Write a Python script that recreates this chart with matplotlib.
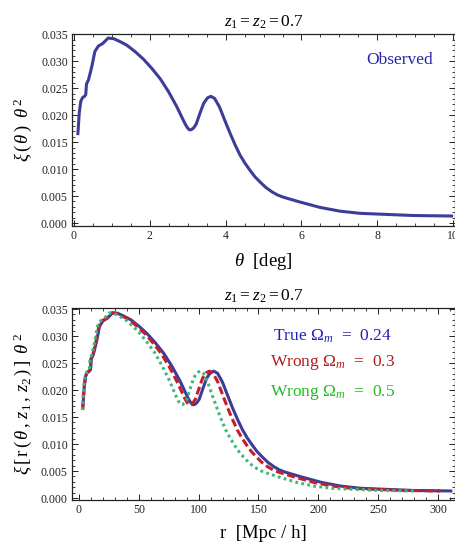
import matplotlib
matplotlib.use("Agg")
import matplotlib.pyplot as plt
from matplotlib.ticker import MultipleLocator, FormatStrFormatter

plt.rcParams['font.family'] = ['Liberation Serif', 'DejaVu Serif']
plt.rcParams['mathtext.fontset'] = 'custom'
plt.rcParams['mathtext.rm'] = 'Liberation Serif'
plt.rcParams['mathtext.it'] = 'Liberation Serif:italic'
plt.rcParams['mathtext.bf'] = 'Liberation Serif:bold'

# --- data ---
# observed angular correlation, xi(theta) * theta^2
theta_deg = [0.10, 0.14, 0.18, 0.23, 0.28, 0.31, 0.33, 0.38, 0.47, 0.55,
             0.64, 0.76, 0.90, 1.04, 1.20, 1.39, 1.61, 1.83, 2.05, 2.27,
             2.49, 2.71, 2.84, 2.93, 2.99, 3.04, 3.09, 3.15, 3.22, 3.32,
             3.42, 3.52, 3.61, 3.71, 3.84, 3.98, 4.12, 4.25, 4.38, 4.51,
             4.64, 4.77, 4.91, 5.06, 5.22, 5.37, 5.52, 5.96, 6.49, 7.02,
             7.55, 8.25, 8.95, 10.0]
xi_theta2 = [0.0163, 0.0205, 0.0226, 0.0233, 0.0235, 0.0238, 0.0258, 0.0265, 0.0290, 0.0318,
             0.0328, 0.0333, 0.0343, 0.0342, 0.0337, 0.0330, 0.0318, 0.0304, 0.0287, 0.0268,
             0.0244, 0.0216, 0.0197, 0.0184, 0.0177, 0.0173, 0.0173, 0.0176, 0.0183, 0.0203,
             0.0222, 0.0232, 0.0235, 0.0231, 0.0215, 0.0190, 0.0166, 0.0145, 0.0126, 0.0111,
             0.0098, 0.0086, 0.0076, 0.0066, 0.0058, 0.0052, 0.0048, 0.0039, 0.0029, 0.0022,
             0.0018, 0.0016, 0.0014, 0.0013]

# same points placed at comoving separation r [Mpc/h] for each cosmology
r_true_024 = [3.1, 4.4, 5.6, 7.2, 8.7, 9.7, 10.3, 11.9, 14.7, 17.2,
              20.0, 23.7, 28.1, 32.4, 37.4, 43.4, 50.2, 57.1, 64.0, 70.8,
              77.7, 84.6, 88.6, 91.4, 93.3, 94.8, 96.4, 98.3, 100.5, 103.6,
              106.7, 109.8, 112.6, 115.8, 119.8, 124.2, 128.5, 132.6, 136.7, 140.7,
              144.8, 148.8, 153.2, 157.9, 162.9, 167.5, 172.2, 186.0, 202.5, 219.0,
              235.6, 257.4, 279.2, 312.0]
r_wrong_03 = [3.0, 4.2, 5.4, 6.9, 8.5, 9.4, 10.0, 11.5, 14.2, 16.6,
              19.3, 23.0, 27.2, 31.4, 36.2, 42.0, 48.6, 55.3, 61.9, 68.6,
              75.2, 81.8, 85.8, 88.5, 90.3, 91.8, 93.3, 95.1, 97.2, 100.3,
              103.3, 106.3, 109.0, 112.0, 116.0, 120.2, 124.4, 128.4, 132.3, 136.2,
              140.1, 144.1, 148.3, 152.8, 157.6, 162.2, 166.7, 180.0, 196.0, 212.0,
              228.0, 249.2, 270.3, 302.0]
r_wrong_05 = [2.8, 3.9, 5.0, 6.4, 7.8, 8.7, 9.2, 10.6, 13.2, 15.4,
              17.9, 21.3, 25.2, 29.1, 33.6, 38.9, 45.1, 51.2, 57.4, 63.6,
              69.7, 75.9, 79.5, 82.0, 83.7, 85.1, 86.5, 88.2, 90.2, 93.0,
              95.8, 98.6, 101.1, 103.9, 107.5, 111.4, 115.4, 119.0, 122.6, 126.3,
              129.9, 133.6, 137.5, 141.7, 146.2, 150.4, 154.6, 166.9, 181.7, 196.6,
              211.4, 231.0, 250.6, 280.0]

labels_bottom = [r'True $\Omega_m$  =  0.24', r'Wrong $\Omega_m$  =  0.3', r'Wrong $\Omega_m$  =  0.5']

c_blue = '#3d3d99'
c_red = '#c41e2a'
c_green = '#3cb878'


def style_axes(ax, x_major, x_minor):
    ax.xaxis.set_major_locator(MultipleLocator(x_major))
    ax.xaxis.set_minor_locator(MultipleLocator(x_minor))
    ax.yaxis.set_major_locator(MultipleLocator(0.005))
    ax.yaxis.set_minor_locator(MultipleLocator(0.001))
    ax.yaxis.set_major_formatter(FormatStrFormatter('%.3f'))
    ax.tick_params(which='both', direction='in', top=True, right=True,
                   labelsize=8.5, colors='#222222', pad=3)
    ax.tick_params(which='major', length=4, width=0.7)
    ax.tick_params(which='minor', length=2, width=0.6)
    for s in ax.spines.values():
        s.set_linewidth(0.9)
        s.set_color('#222222')


fig = plt.figure(figsize=(4.55, 5.47), dpi=100)

# --- top panel ---
ax1 = fig.add_axes([0.1582, 0.5868, 0.8418, 0.351])
ax1.plot(theta_deg, xi_theta2, color=c_blue, lw=2.2, solid_capstyle='butt')
ax1.set_xlim(-0.053, 10.05)
ax1.set_ylim(-0.00055, 0.03505)
style_axes(ax1, 2, 0.5)
ax1.set_title(r'$z_1 = z_2 = 0.7$', fontsize=12.5, pad=5)
ax1.set_xlabel(r'$\theta$  [deg]', fontsize=13.5, labelpad=6)
ax1.set_ylabel(r'$\xi\,(\,\theta\,)\;\;\theta^{\,2}$', fontsize=13.5, labelpad=5)
ax1.text(0.856, 0.865, 'Observed', transform=ax1.transAxes, color='#2626aa',
         fontsize=12.5, ha='center', va='center')

# --- bottom panel ---
ax2 = fig.add_axes([0.1582, 0.0859, 0.8418, 0.351])
ax2.plot(r_true_024, xi_theta2, color=c_blue, lw=2.2, solid_capstyle='butt')
ax2.plot(r_wrong_03, xi_theta2, color=c_red, lw=2.2, dashes=(2.6, 1.2))
ax2.plot(r_wrong_05, xi_theta2, color=c_green, lw=2.2, dashes=(0.9, 1.1))
ax2.set_xlim(-5.85, 314.2)
ax2.set_ylim(-0.00037, 0.03519)
style_axes(ax2, 50, 10)
ax2.set_title(r'$z_1 = z_2 = 0.7$', fontsize=12.5, pad=5)
ax2.set_xlabel('r  [Mpc / h]', fontsize=13.5, labelpad=6)
ax2.set_ylabel(r'$\xi\,[\,\mathrm{r}\,(\,\theta\,,\,z_1\,,\,z_2\,)\,]\;\;\theta^{\,2}$',
               fontsize=13.5, labelpad=5)

text_colors = ['#2222b4', '#b41c1c', '#22bb22']
text_y = [0.854, 0.714, 0.5625]
for lab, col, ty in zip(labels_bottom, text_colors, text_y):
    ax2.text(0.679, ty, lab, transform=ax2.transAxes, color=col,
             fontsize=12.5, ha='center', va='center')

fig.savefig('out.png', dpi=100)
